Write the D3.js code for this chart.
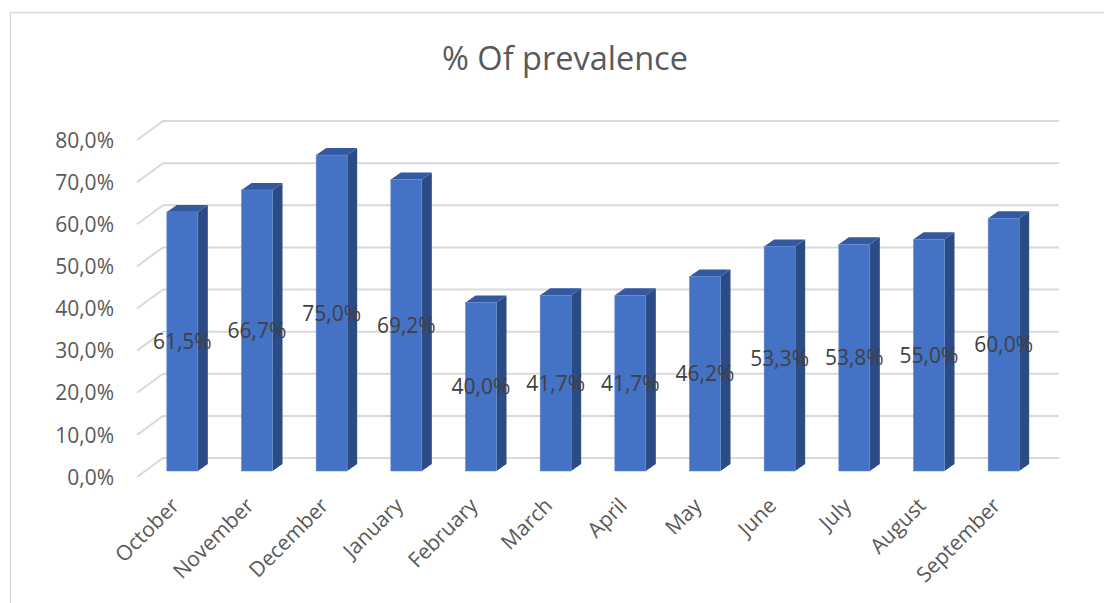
<!DOCTYPE html>
<html>
<head>
<meta charset="utf-8">
<script src="https://cdn.jsdelivr.net/npm/d3@7"></script>
<style>
  html, body { margin: 0; padding: 0; background: #fff; }
  svg { display: block; font-family: "Open Sans", sans-serif; }
</style>
</head>
<body>
<svg id="chart" width="1104" height="603"></svg>
<script>
const categories = ["October", "November", "December", "January", "February", "March",
                    "April", "May", "June", "July", "August", "September"];
const values = [61.5, 66.7, 75.0, 69.2, 40.0, 41.7, 41.7, 46.2, 53.3, 53.8, 55.0, 60.0];
const yTicks = [0, 10, 20, 30, 40, 50, 60, 70, 80];
const title = "% Of prevalence";

const svg = d3.select("#chart");
const W = 1104, H = 603;

const loc = d3.formatLocale({decimal: ",", thousands: ".", grouping: [3], currency: ["", ""]});
const fmt = v => loc.format(".1f")(v) + "%";

// chart frame
svg.append("path")
  .attr("d", `M10.5,${H + 5} L10.5,12.5 L${W + 5},12.5`)
  .attr("fill", "none").attr("stroke", "#d9d9d9").attr("stroke-width", 1.3);

// scales (back wall plane)
const x = d3.scaleBand().domain(categories).range([163, 1059])
  .paddingInner(0.585).paddingOuter(0.2925);
const y = d3.scaleLinear().domain([0, 80]).range([458, 121]);

// depth offsets
const floorDX = -26, floorDY = 19;   // front edge of floor relative to back wall
const barFDX = -18, barFDY = 13;     // bar front face relative to back wall
const barDX = 10, barDY = -7;        // bar depth (front -> back)

// gridlines
const grid = svg.append("g");
yTicks.forEach(t => {
  const yy = y(t);
  grid.append("path")
    .attr("d", `M${163 + floorDX},${yy + floorDY} L163,${yy} L1059,${yy}`)
    .attr("fill", "none").attr("stroke", "#d9d9d9").attr("stroke-width", 2);
});

// y tick labels
svg.append("g").selectAll("text").data(yTicks).join("text")
  .attr("x", 114)
  .attr("y", d => y(d) + floorDY + 2)
  .attr("text-anchor", "end")
  .attr("dominant-baseline", "middle")
  .attr("fill", "#595959")
  .attr("font-size", 21)
  .text(d => fmt(d));

// bars
const bars = svg.append("g").selectAll("g").data(categories).join("g");
bars.each(function(c, i) {
  const g = d3.select(this);
  const w = x.bandwidth();
  const fx = x(c) + barFDX;
  const fy = y(values[i]) + barFDY;
  const by = y(0) + barFDY;
  // side
  g.append("path")
    .attr("d", `M${fx + w},${fy} L${fx + w + barDX},${fy + barDY} L${fx + w + barDX},${by + barDY} L${fx + w},${by} Z`)
    .attr("fill", "#2c4b84");
  // top
  g.append("path")
    .attr("d", `M${fx},${fy} L${fx + barDX},${fy + barDY} L${fx + w + barDX},${fy + barDY} L${fx + w},${fy} Z`)
    .attr("fill", "#3459a1");
  // front
  g.append("rect")
    .attr("x", fx).attr("y", fy).attr("width", w).attr("height", by - fy)
    .attr("fill", "#4472c4").attr("stroke", "#5f88d2").attr("stroke-width", 0.6);
});

// data labels
svg.append("g").selectAll("text").data(categories).join("text")
  .attr("x", c => x(c) + barFDX + x.bandwidth() / 2)
  .attr("y", (c, i) => (y(values[i]) + y(0)) / 2 + barFDY + 2)
  .attr("text-anchor", "middle")
  .attr("dominant-baseline", "middle")
  .attr("fill", "#404040")
  .attr("font-size", 21)
  .text((c, i) => fmt(values[i]));

// category labels
svg.append("g").selectAll("text").data(categories).join("text")
  .attr("transform", c => `translate(${x(c) + barFDX + x.bandwidth() / 2 - 2},${y(0) + barFDY + 36}) rotate(-45)`)
  .attr("text-anchor", "end")
  .attr("fill", "#595959")
  .attr("font-size", 21)
  .text(c => c);

// title
svg.append("text")
  .attr("x", 565).attr("y", 70)
  .attr("text-anchor", "middle")
  .attr("fill", "#595959")
  .attr("font-size", 32.5)
  .text(title);
</script>
</body>
</html>
